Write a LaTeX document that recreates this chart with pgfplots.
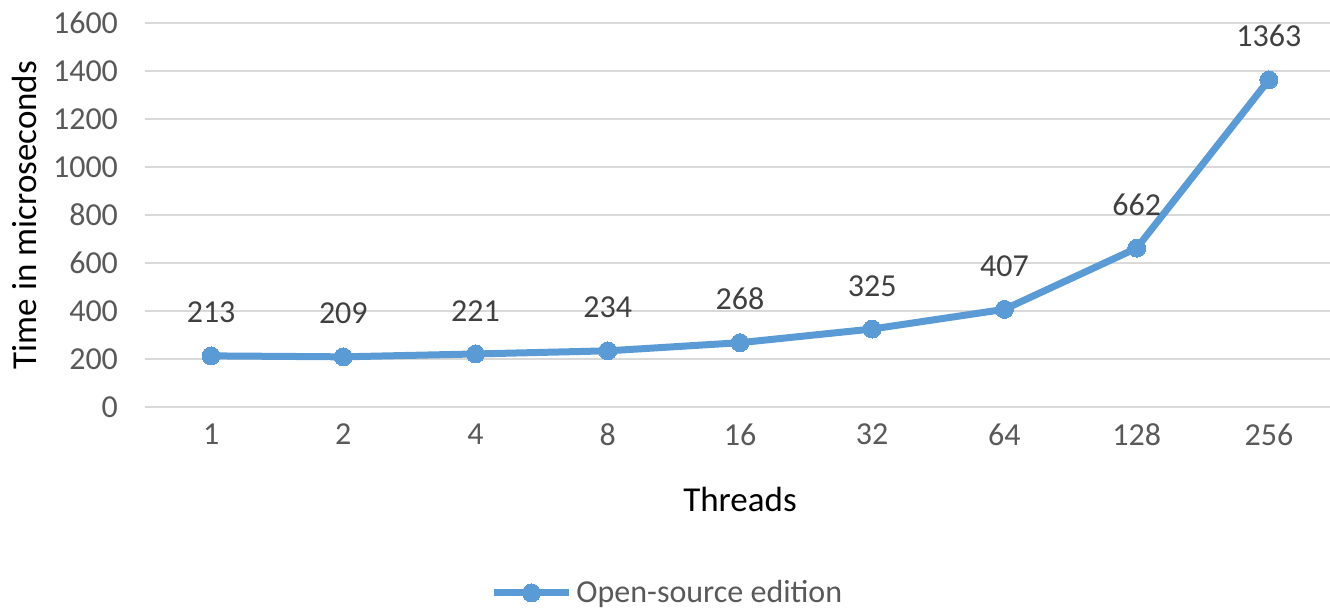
\documentclass[border=0pt]{standalone}
\usepackage{fontspec}
\setmainfont{Carlito}
\usepackage{pgfplots}
\pgfplotsset{compat=1.18}

\definecolor{lineblue}{HTML}{5B9BD5}
\definecolor{gridgray}{HTML}{D9D9D9}
\definecolor{ticktext}{HTML}{595959}
\definecolor{labeltext}{HTML}{404040}

\begin{document}
\begin{tikzpicture}
\useasboundingbox (0,0) rectangle (665pt,306pt);
\begin{axis}[
    at={(72.5pt,102.5pt)}, anchor=south west,
    scale only axis,
    width=595pt, height=192pt,
    font=\fontsize{16}{19}\selectfont,
    /pgf/number format/assume math mode=true,
    /pgf/number format/1000 sep={},
    xmin=-0.5, xmax=8.5,
    ymin=0, ymax=1600,
    xtick=data,
    xticklabels={1,2,4,8,16,32,64,128,256},
    ytick={0,200,...,1600},
    axis line style={draw=none},
    major tick length=0pt,
    ymajorgrids=true,
    grid style={gridgray, line width=1pt},
    ticklabel style={text=ticktext},
    yticklabel style={xshift=-10pt},
    xticklabel style={yshift=-5pt},
    xlabel={Threads},
    ylabel={Time in microseconds},
    label style={text=black, font=\fontsize{17.5}{21}\selectfont},
    xlabel style={at={(axis description cs:0.5,-0.242)}, anchor=center},
    ylabel style={at={(axis description cs:-0.101,0.5)}, anchor=center, rotate=0},
    nodes near coords,
    nodes near coords style={text=labeltext, yshift=13pt, font=\fontsize{16}{19}\selectfont},
    legend style={draw=none, at={(axis description cs:0.29,-0.484)}, anchor=west,
        inner sep=0pt, text=ticktext, font=\fontsize{16}{19}\selectfont},
    legend image code/.code={
        \draw[mark repeat=2, mark phase=2, #1] plot coordinates {(0pt,0pt) (18.75pt,0pt) (37.5pt,0pt)};
    },
]
\addplot[color=lineblue, line width=3.5pt, mark=*, mark size=4.5pt,
    mark options={solid, fill=lineblue, draw=lineblue, line width=0pt}]
    coordinates {
        (0, 213)
        (1, 209)
        (2, 221)
        (3, 234)
        (4, 268)
        (5, 325)
        (6, 407)
        (7, 662)
        (8, 1363)
    };
\addlegendentry{Open-source edition}
\end{axis}
\end{tikzpicture}
\end{document}
